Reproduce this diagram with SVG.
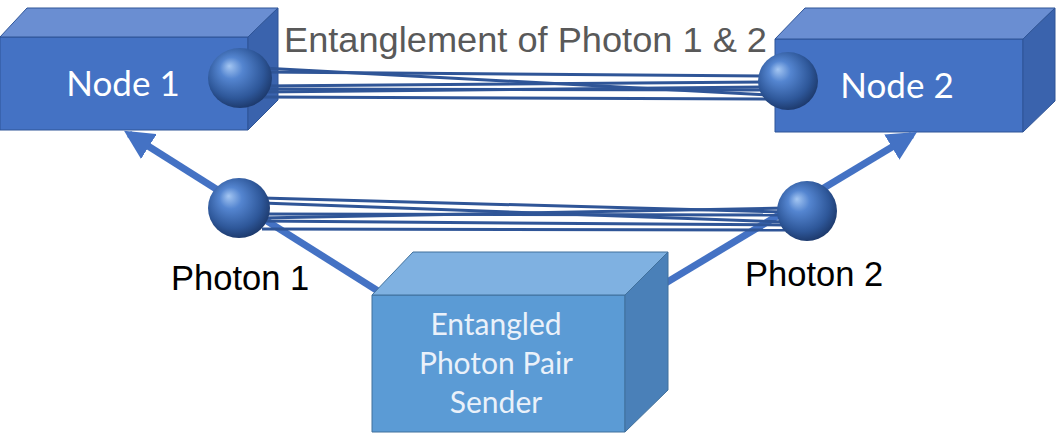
<svg xmlns="http://www.w3.org/2000/svg" width="1056" height="434" viewBox="0 0 1056 434">
<style>
.front{fill:#4472C4;stroke:#2F5597;stroke-width:1}
.top{fill:#6A8ED2;stroke:#2F5597;stroke-width:1}
.side{fill:#3A63AD;stroke:#2F5597;stroke-width:1}
.sfront{fill:#5B9BD5;stroke:#41719C;stroke-width:1}
.stop{fill:#7FB1E1;stroke:#41719C;stroke-width:1}
.sside{fill:#4A80B8;stroke:#41719C;stroke-width:1}
.ntext{font-family:Lato,"Open Sans",sans-serif;font-size:35px;fill:#FFFFFF;text-anchor:middle}
.stext{font-family:Lato,"Open Sans",sans-serif;font-size:30px;fill:#EAF1FA;text-anchor:middle}
.label{font-family:"Liberation Sans",Arial,sans-serif;font-size:34.5px;fill:#000000}
.title{font-family:"Liberation Sans",Arial,sans-serif;font-size:35.5px;fill:#595959}
.arrow{stroke:#4472C4;stroke-width:7;fill:none}
.ent{stroke:#2F5597;stroke-width:3;fill:none}
.sphere{fill:url(#sph)}
</style>
<defs>
<radialGradient id="sph" cx="0.45" cy="0.42" r="0.6" fx="0.33" fy="0.3">
<stop offset="0" stop-color="#A4C6F2"/>
<stop offset="0.3" stop-color="#5485D0"/>
<stop offset="0.75" stop-color="#2E5799"/>
<stop offset="1" stop-color="#1C386A"/>
</radialGradient>
<marker id="ah" viewBox="0 0 10 10" refX="8" refY="5" markerWidth="4.2" markerHeight="4.2" orient="auto" markerUnits="strokeWidth">
<path d="M0,0 L10,5 L0,10 z" fill="#4472C4"/>
</marker>
</defs>

<g id="node1">
<polygon class="front" points="0,37 248,37 248,130 0,130"/>
<polygon class="top" points="0,37 27,8 278,8 248,37"/>
<polygon class="side" points="248,37 278,8 278,100 248,130"/>
<text class="ntext" x="123" y="96">Node 1</text>
</g>

<g id="node2">
<polygon class="front" points="775,39 1023,39 1023,132 775,132"/>
<polygon class="top" points="775,39 805,8 1055,8 1023,39"/>
<polygon class="side" points="1023,39 1055,8 1055,101 1023,132"/>
<text class="ntext" x="897" y="98">Node 2</text>
</g>

<g id="title">
<text class="title" x="284" y="52" textLength="483" lengthAdjust="spacingAndGlyphs">Entanglement of Photon 1 &amp; 2</text>
</g>

<g id="connectors">
<line class="arrow" x1="378" y1="291" x2="129" y2="134" marker-end="url(#ah)"/>
<line class="arrow" x1="664" y1="284" x2="912" y2="135" marker-end="url(#ah)"/>
<g id="entangle-top">
<line class="ent" x1="262" y1="68" x2="770" y2="95"/>
<line class="ent" x1="262" y1="72" x2="770" y2="76"/>
<line class="ent" x1="262" y1="86" x2="770" y2="82"/>
<line class="ent" x1="262" y1="89" x2="770" y2="90"/>
<line class="ent" x1="262" y1="92" x2="770" y2="87"/>
<line class="ent" x1="262" y1="97" x2="770" y2="99"/>
</g>
<g id="entangle-bottom">
<line class="ent" x1="262" y1="198" x2="785" y2="212"/>
<line class="ent" x1="262" y1="203" x2="785" y2="222"/>
<line class="ent" x1="262" y1="214" x2="785" y2="215"/>
<line class="ent" x1="262" y1="218" x2="785" y2="208"/>
<line class="ent" x1="262" y1="221" x2="785" y2="225"/>
<line class="ent" x1="262" y1="229" x2="785" y2="230"/>
</g>
</g>

<g id="sphere-node1"><ellipse class="sphere" cx="240" cy="78" rx="32" ry="30"/></g>
<g id="sphere-node2"><ellipse class="sphere" cx="788" cy="81" rx="30" ry="29"/></g>
<g id="photon1">
<ellipse class="sphere" cx="239" cy="208" rx="31" ry="30"/>
<text class="label" x="171" y="290">Photon 1</text>
</g>
<g id="photon2">
<ellipse class="sphere" cx="807" cy="211" rx="30" ry="30"/>
<text class="label" x="745" y="286">Photon 2</text>
</g>

<g id="sender">
<polygon class="sfront" points="372,295 625,295 625,432 372,432"/>
<polygon class="stop" points="372,295 413,252 668,252 625,295"/>
<polygon class="sside" points="625,295 668,252 668,390 625,432"/>
<text class="stext" x="496" y="335">Entangled</text>
<text class="stext" x="496" y="374">Photon Pair</text>
<text class="stext" x="496" y="413">Sender</text>
</g>
</svg>
